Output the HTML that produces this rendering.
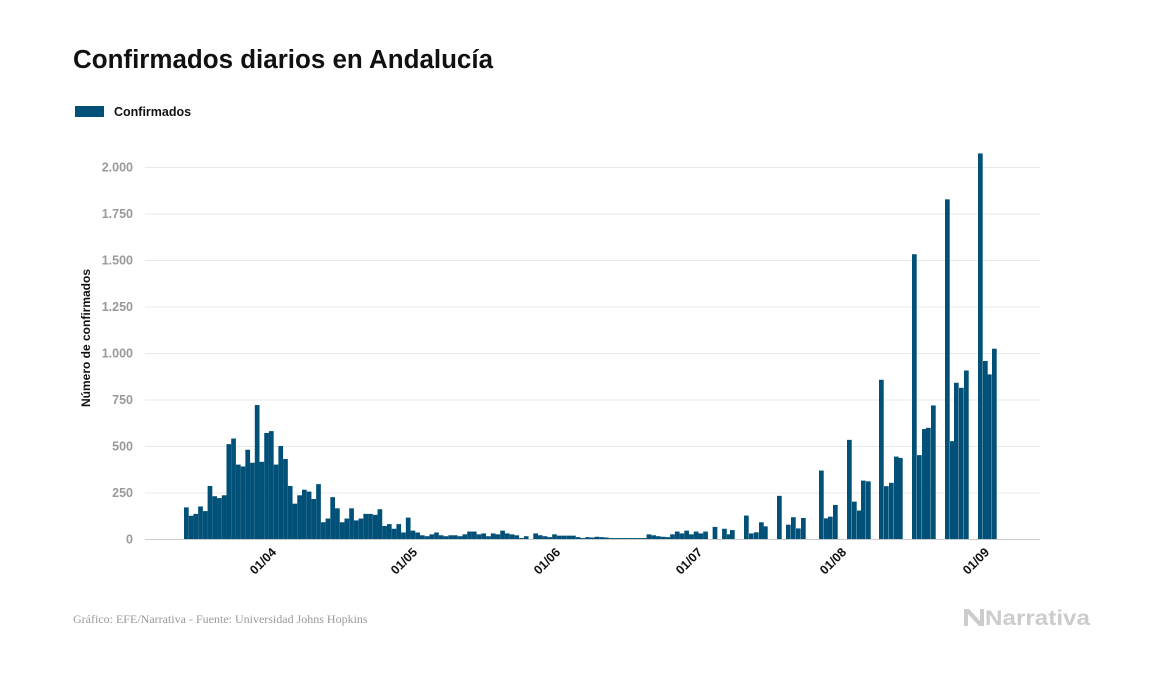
<!DOCTYPE html>
<html><head><meta charset="utf-8"><style>
body{margin:0;background:#fff;width:1157px;height:674px;overflow:hidden;font-family:"Liberation Sans",sans-serif}
</style></head><body>
<svg width="1157" height="674" xmlns="http://www.w3.org/2000/svg">
<text x="73" y="68" font-family="Liberation Sans" font-weight="bold" font-size="25.5" fill="#111" textLength="420" lengthAdjust="spacingAndGlyphs">Confirmados diarios en Andalucía</text>
<rect x="75" y="106" width="29" height="11" fill="#005077"/>
<text x="114" y="116" font-size="12.5" font-weight="bold" fill="#111">Confirmados</text>
<g id="grid" stroke="#e8e8e8" stroke-width="1"></g>
<g id="ylab" font-size="12.5" font-weight="bold" fill="#999" text-anchor="end"></g>
<text transform="translate(90,338) rotate(-90)" font-size="12" font-weight="bold" fill="#111" text-anchor="middle">Número de confirmados</text>
<g id="bars" fill="#005077"></g>
<line x1="145" x2="1040" y1="539.5" y2="539.5" stroke="#ccc"/>
<g font-size="12.5" font-weight="bold" fill="#111" text-anchor="end">
<text transform="translate(277,553) rotate(-45)">01/04</text>
<text transform="translate(418,553) rotate(-45)">01/05</text>
<text transform="translate(561,553) rotate(-45)">01/06</text>
<text transform="translate(703,553) rotate(-45)">01/07</text>
<text transform="translate(847,553) rotate(-45)">01/08</text>
<text transform="translate(990,553) rotate(-45)">01/09</text>
</g>
<text x="73" y="623" font-family="Liberation Serif" font-size="12" fill="#999">Gráfico: EFE/Narrativa - Fuente: Universidad Johns Hopkins</text>
<g fill="#ccc"><polygon points="964,609 969,609 980,621 980,609 984,609 984,626 979,626 968,614 968,626 964,626"/></g>
<text x="985" y="625" font-size="21" font-weight="bold" fill="#ccc" textLength="105" lengthAdjust="spacingAndGlyphs">Narrativa</text>
</svg>
<script>
var g=document.getElementById('grid'),yl=document.getElementById('ylab'),b=document.getElementById('bars');
var NS='http://www.w3.org/2000/svg';
function y(v){return 539-v*0.186;}
var labs=['0','250','500','750','1.000','1.250','1.500','1.750','2.000'];
for(var i=0;i<=8;i++){var yy=y(i*250);
 if(i>0){var l=document.createElementNS(NS,'line');l.setAttribute('x1',145);l.setAttribute('x2',1040);l.setAttribute('y1',yy+0.5);l.setAttribute('y2',yy+0.5);g.appendChild(l);}
 var t=document.createElementNS(NS,'text');t.setAttribute('x',133);t.setAttribute('y',yy+4.5);t.textContent=labs[i];yl.appendChild(t);}
var early=[170,125,135,175,150,285,230,220,235,510,540,400,390,480,410,720,415,570,580,400,500,430,285,190,235,265,255,215,295,90,110,225,165,90,110,165,100,110,135,135,130,160,70,80,55,80,35,115,45,35,20,15,25,35,20,15,20,20,15,25,40,40,25,30,15,30,25,45,30,25,20,5,15,0,30,20,15,10,25,18,18,18,18,10,5,10,8,12,10,8,5,5,5,5,5,5,5,5,25,20,15,12,10,25,40,30,45,25,40,30,40,0,65,0,55,25,35,40,50];
var data=[];
for(var i=0;i<early.length;i++){data.push([184+i*4.72,early[i]]);}
var late=[[730,48],[744,126],[749,30],[754,36],[759,90],[763,68],[777,232],[786,77],[791,117],[796,57],[801,113],[819,368],[824,111],[828,120],[833,183],[847,533],[852,201],[857,153],[861,314],[866,310],[879,856],[884,284],[889,302],[894,443],[898,436],[912,1531],[917,451],[922,591],[926,598],[931,718],[945,1826],[950,526],[954,840],[959,813],[964,906],[978,2073],[983,957],[987,885],[992,1023]];
data=data.filter(function(d){return d[0]<728;}).concat(late);
data.forEach(function(d){if(d[1]<=0)return;var r=document.createElementNS(NS,'rect');
r.setAttribute('x',d[0]);r.setAttribute('width',4.7);r.setAttribute('y',y(d[1]));r.setAttribute('height',539-y(d[1]));b.appendChild(r);});
</script>
</body></html>
